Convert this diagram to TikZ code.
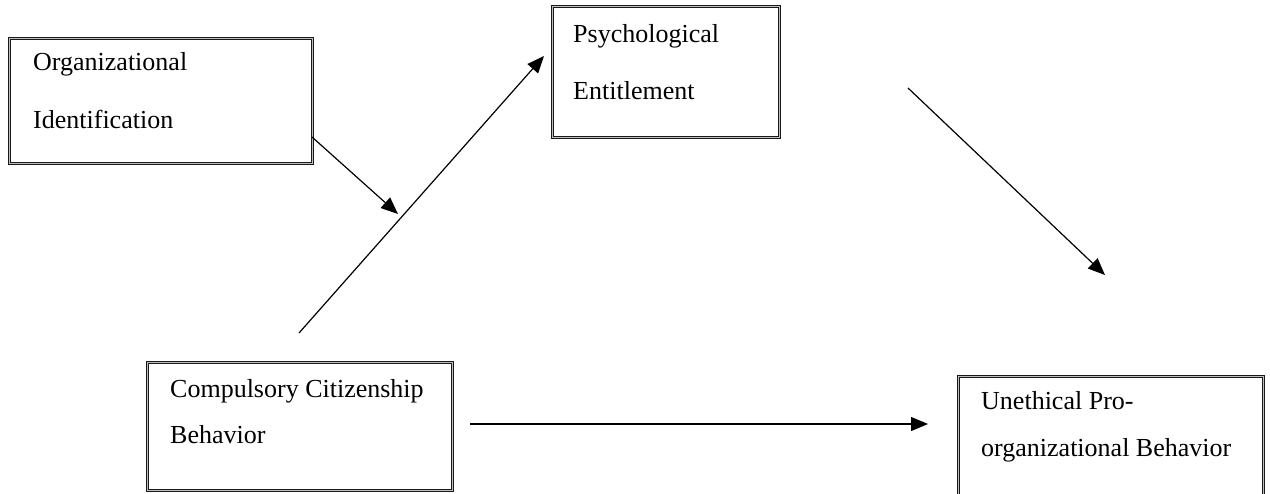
\documentclass[tikz,border=0pt]{standalone}
\usepackage{fontspec}
\setmainfont{Liberation Serif}
\usetikzlibrary{arrows.meta}
\begin{document}
\begin{tikzpicture}[x=1pt,y=-1pt,
  box/.style={draw=black!90, double=gray!50, line width=1pt, double distance=1pt,
              rectangle, inner sep=0pt, outer sep=0pt},
  lbl/.style={anchor=base west, inner sep=0pt, font=\fontsize{26}{30}\selectfont},
  conn/.style={line width=1.2pt, -{Triangle[length=17pt,width=14pt]}}]
\useasboundingbox (0,0) rectangle (1270,493);
% boxes
\node[box, minimum width=303pt, minimum height=125pt] (oi) at (160.5,100.5) {};
\node[box, minimum width=227pt, minimum height=131pt] (pe) at (666,71.5) {};
\node[box, minimum width=305pt, minimum height=128pt] (ccb) at (299.5,426) {};
\node[box, minimum width=305pt, minimum height=130pt] (upb) at (1110.5,441) {};
% labels
\node[lbl] (oi1) at (33,70) {Organizational};
\node[lbl] (oi2) at (33,128) {Identification};
\node[lbl] (pe1) at (573,42) {Psychological};
\node[lbl] (pe2) at (573,99) {Entitlement};
\node[lbl] (ccb1) at (170,397) {Compulsory Citizenship};
\node[lbl] (ccb2) at (170,443) {Behavior};
\node[lbl] (upb1) at (981,409) {Unethical Pro-};
\node[lbl] (upb2) at (981,456) {organizational Behavior};
% connector end points
\coordinate (oiS) at (312,137);
\coordinate (mod) at (398,214);
\coordinate (ccbS) at (299,333);
\coordinate (peW) at (544,56);
\coordinate (peS) at (908,88);
\coordinate (upbN) at (1105,275);
\coordinate (ccbE) at (470,424);
\coordinate (upbW) at (928,424);
% connectors
\draw[conn] (oiS) -- (mod);
\draw[conn] (ccbS) -- (peW);
\draw[conn] (peS) -- (upbN);
\draw[conn] (ccbE) -- (upbW);
\end{tikzpicture}
\end{document}
